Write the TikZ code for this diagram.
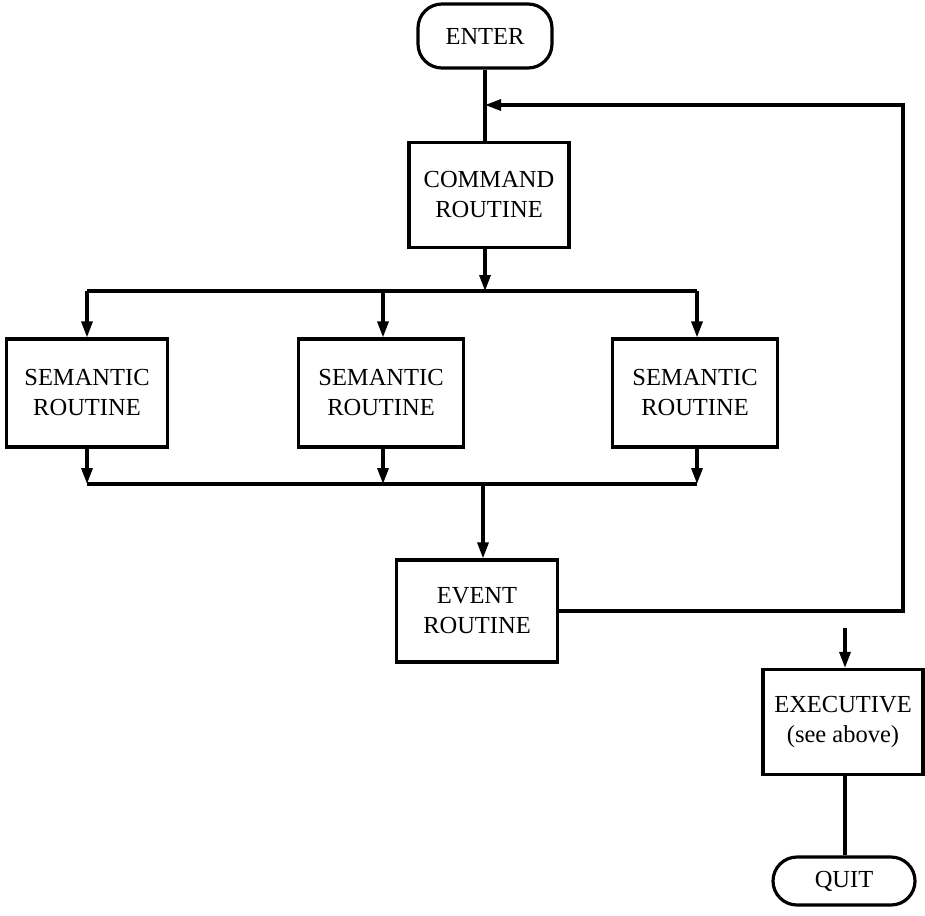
\documentclass[tikz,border=0pt]{standalone}
\usepackage{fontspec}
\setmainfont{Liberation Serif}
\usetikzlibrary{arrows.meta}
\newcommand\fsz{\fontsize{24.5}{30}\selectfont}
\begin{document}
\begin{tikzpicture}[x=1pt,y=-1pt,
  blk/.style={draw, line width=3.2pt, align=center, inner sep=0pt, font=\fsz},
  pill/.style={blk, rounded corners=24pt},
  conn/.style={line width=3.2pt},
  arr/.style={conn, -{Triangle[length=16pt,width=11pt]}}]
\useasboundingbox (0,0) rectangle (925,915);
% nodes
\node[pill, minimum width=134pt, minimum height=64pt] (enter) at (485,36) {ENTER};
\node[blk, minimum width=160pt, minimum height=105pt] (cmd) at (489,195) {COMMAND\\ROUTINE};
\node[blk, minimum width=161pt, minimum height=108pt] (sem1) at (87,393) {SEMANTIC\\ROUTINE};
\node[blk, minimum width=165pt, minimum height=108pt] (sem2) at (381,393) {SEMANTIC\\ROUTINE};
\node[blk, minimum width=165pt, minimum height=108pt] (sem3) at (695,393) {SEMANTIC\\ROUTINE};
\node[blk, minimum width=161pt, minimum height=102pt] (event) at (477,611) {EVENT\\ROUTINE};
\node[blk, minimum width=160pt, minimum height=105pt] (exec) at (843,722) {EXECUTIVE\\(see above)};
\node[pill, minimum width=142pt, minimum height=48pt] (quit) at (844,881) {QUIT};
% coordinates
\coordinate (fb) at (485,105);
\coordinate (rc) at (903,105);
\coordinate (bl) at (87,291);
\coordinate (br) at (697,291);
\coordinate (bm) at (383,291);
\coordinate (ml) at (87,484);
\coordinate (mr) at (697,484);
\coordinate (mm) at (383,484);
\coordinate (me) at (483,484);
\coordinate (ea) at (845,628);
% connectors
\draw[conn] (enter.south) -- (enter.south |- cmd.north);
\draw[arr] (event.east) -| (rc) -- (fb);
\draw[arr] (cmd.south -| fb) -- (fb |- bl);
\draw[conn] (bl) -- (br);
\draw[arr] (bl) -- (bl |- sem1.north);
\draw[arr] (bm) -- (bm |- sem2.north);
\draw[arr] (br) -- (br |- sem3.north);
\draw[arr] (sem1.south -| ml) -- (ml);
\draw[arr] (sem2.south -| mm) -- (mm);
\draw[arr] (sem3.south -| mr) -- (mr);
\draw[conn] (ml) -- (mr);
\draw[arr] (me) -- (me |- event.north);
\draw[arr] (ea) -- (ea |- exec.north);
\draw[conn] (exec.south -| ea) -- (ea |- quit.north);
\end{tikzpicture}
\end{document}
